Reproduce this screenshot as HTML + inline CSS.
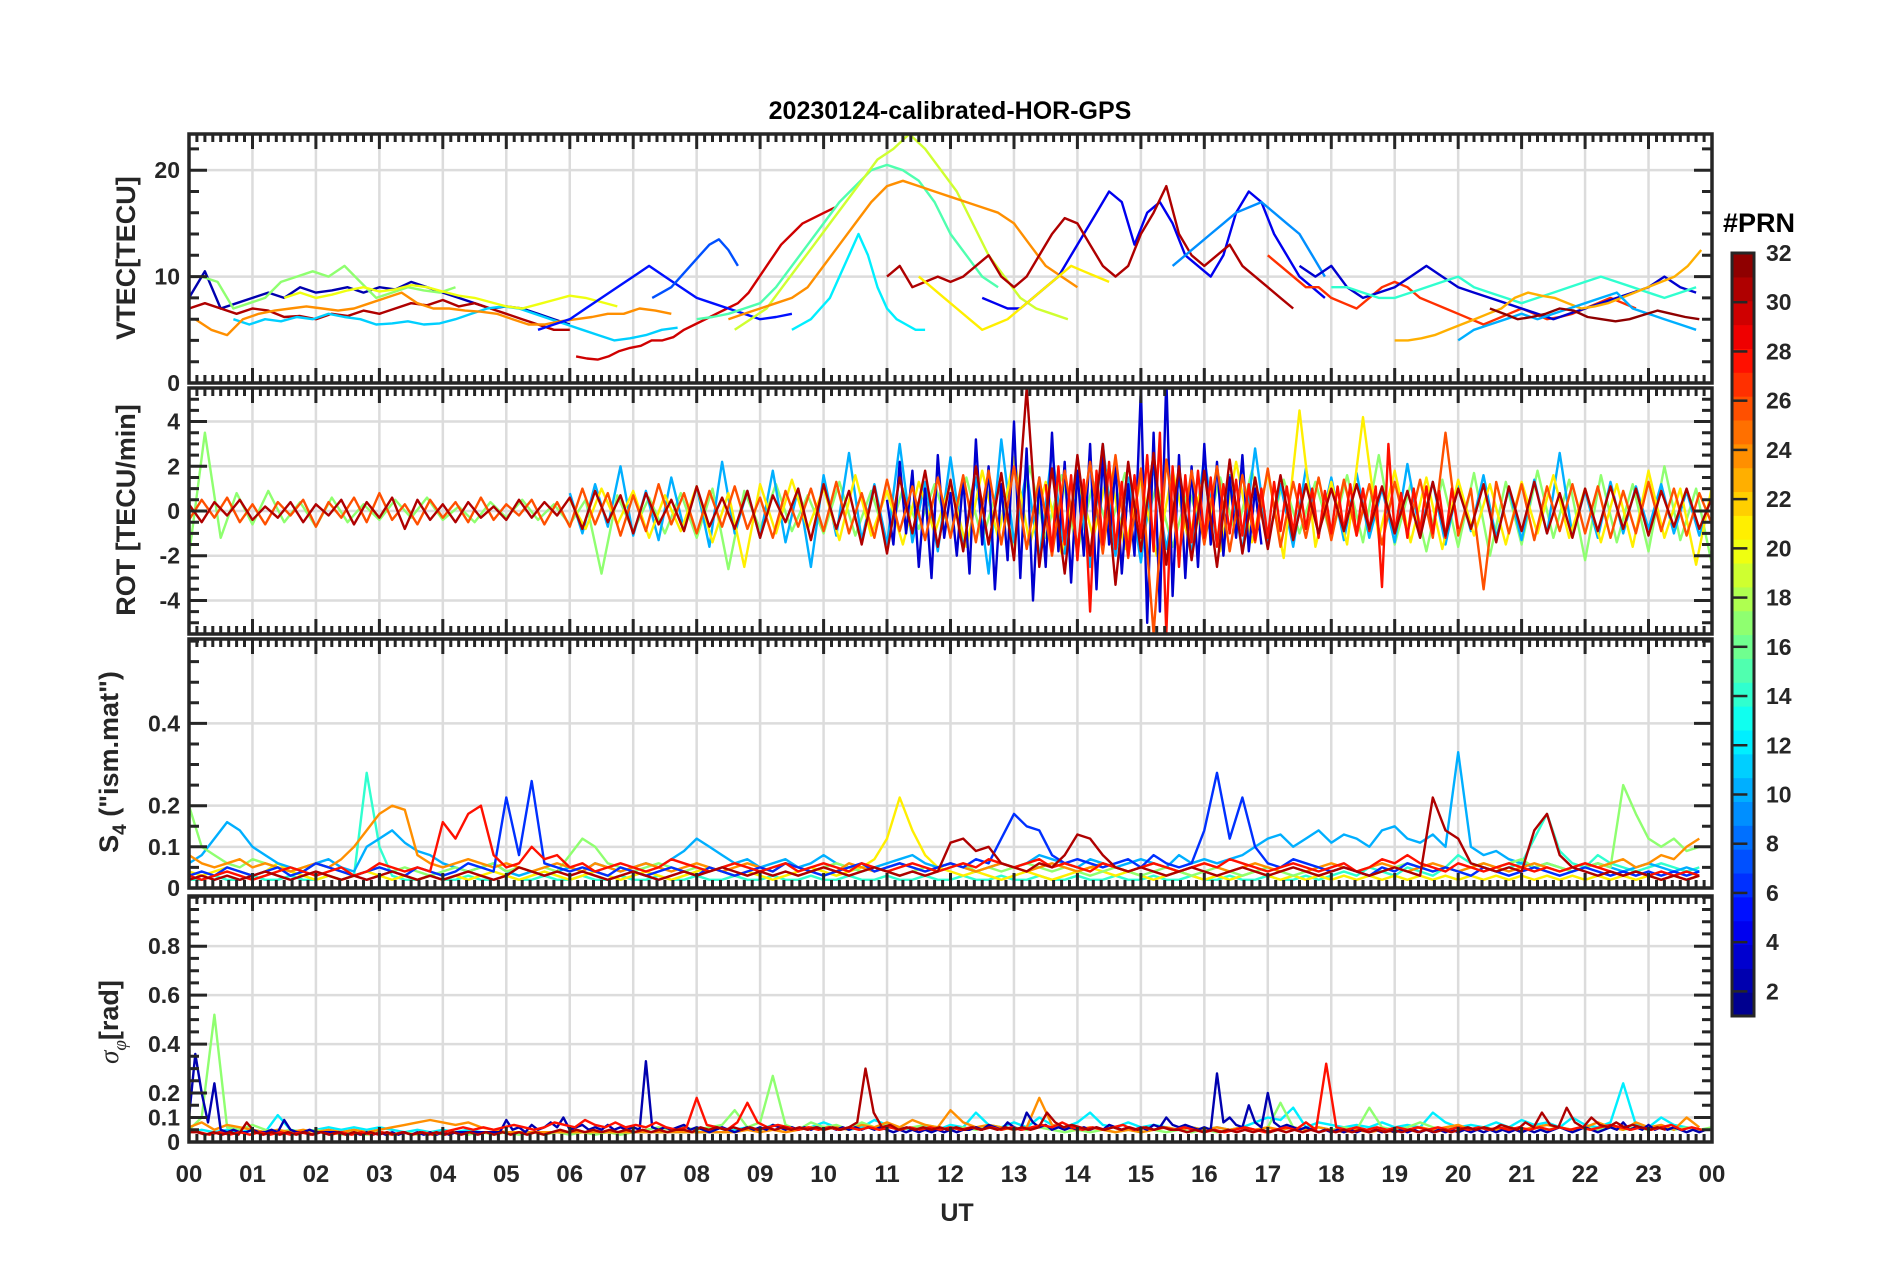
<!DOCTYPE html>
<html><head><meta charset="utf-8"><style>
html,body{margin:0;padding:0;background:#fff;}
svg{display:block;font-family:"Liberation Sans",sans-serif;font-weight:bold;}
</style></head><body>
<svg id="fig" width="1902" height="1272" viewBox="0 0 1902 1272">
<text x="950" y="119" text-anchor="middle" font-size="25" fill="#000">20230124-calibrated-HOR-GPS</text>
<g id="grids"></g>
<g id="lines"></g>
<g id="axes"></g>
<text x="957" y="1221" text-anchor="middle" font-size="25" fill="#262626">UT</text>
<text transform="translate(135,258) rotate(-90)" text-anchor="middle" font-size="27" fill="#262626">VTEC[TECU]</text>
<text transform="translate(135,510) rotate(-90)" text-anchor="middle" font-size="27" fill="#262626">ROT [TECU/min]</text>
<text transform="translate(118,762) rotate(-90)" text-anchor="middle" font-size="27" fill="#262626">S<tspan font-size="19" dy="8">4</tspan><tspan dy="-8"> ("ism.mat")</tspan></text>
<text transform="translate(118,1022) rotate(-90)" text-anchor="middle" font-size="27" fill="#262626"><tspan font-family="Liberation Serif" font-style="italic" font-weight="normal">σ</tspan><tspan font-family="Liberation Serif" font-style="italic" font-weight="normal" font-size="19" dy="8">φ</tspan><tspan dy="-8">[rad]</tspan></text>
<text x="1759" y="232" text-anchor="middle" font-size="27" fill="#000">#PRN</text>
<g id="cbar"></g>
</svg>
<script>
// ---------- data ----------
const hourLabels = ["00","01","02","03","04","05","06","07","08","09","10","11","12","13","14","15","16","17","18","19","20","21","22","23","00"];
const vtecTicks = [0,10,20];
const rotTicks = [-4,-2,0,2,4];
const s4Ticks = [0,0.1,0.2,0.4];
const sigTicks = [0,0.1,0.2,0.4,0.6,0.8];
const cbarTicks = [2,4,6,8,10,12,14,16,18,20,22,24,26,28,30,32];

const vtecP02 = [8,10.5,7,7.5,8,8.5,8,9,8.5,8.7,9,8.5,9,8.8,9.5,9,8.5,8,7.5,7,7.2,7,6.5,6,5.5];
const vtecP17 = [10,9.5,7,7.5,8,9.5,10,10.5,10,11,9.5,8,8.5,9,8.7,8.5,9];
const vtecP31a = [7,7.5,7,6.5,7,6.8,6.2,6.3,6,6.5,6.3,6.8,6.5,7,7.5,7.3,7.8,7.2,7.5,7,6.5,6,5.5,5,5];
const vtecP11 = [6,5.5,6,5.8,6.2,6,6.5,6.2,6,5.5,5.6,5.8,5.5,5.6,6,6.5,7,7.2,7,6.5,6,5.5,5,4.5,4,4.2,4.5,5,5.2];
const vtecP24a = [6,5,4.5,6,6.5,6.8,7,7.2,7,6.8,7,7.5,8,8.5,7.5,7,7,6.8,6.7,6.5,6,5.5,5.5,5.8,6,6.2,6.5,6.5,7,6.8,6.5];
const vtecP20a = [8,8.5,8,8.3,8.7,9,8.6,8.8,9.2,9,8.6,8.2,8,7.6,7.2,7,7.4,7.8,8.2,8,7.6,7.2];
const vtecP30 = [2.5,2.3,2.2,2.5,3,3.3,3.5,4,4,4.3,5,5.5,6,6.5,7,7.5,8.5,10,11.5,13,14,15,15.5,16,16.5];
const vtecP05 = [5,5.5,6,7,8,9,10,11,10,9,8,7.5,7,6.5,6,6.2,6.5];
const vtecP07 = [8,8.5,9,10,11,12,13,13.5,12.5,11];
const vtecP15 = [6,6.2,6.5,7,7.5,9,11,13,15,17,18.5,20,20.5,20,19,17,14,12,10,9];
const vtecP19 = [5,6,7,9,11,13,15,17,19,21,22,23.4,22,20,18,15,12,10,8,7,6.5,6];
const vtecP24b = [6,6.5,7,7.5,8,9,11,13,15,17,18.5,19,18.5,18,17.5,17,16.5,16,15,13,11,10,9];
const vtecP12 = [5,5.5,6,7,8,10,12,14,12,9,7,6,5.5,5,5];
const vtecP04 = [8,7.5,7,7,8,9,10,12,14,16,18,17,13,16,17,15,12,11,10,12,16,18,17,14,12,10,9,8];
const vtecP31b = [10,11,9,9.5,10,9.5,10,11,12,10,9,10,12,14,15.5,15,13,11,10,11,14,16,18.5,14,12,11,12,13,11,10,9,8,7];
const vtecP09 = [11,12,13,14,15,16,16.5,17,16,15,14,12,10];
const vtecP21 = [10,9,8,7,6,5,5.5,6,7,8,9,10,11,10.5,10,9.5];
const vtecP27 = [12,11,10,9,9,8,7.5,7,8,9,9.5,9,8,7.5,7,6.5,6,5.5,6,6.5,7,6.5,6,6.2,6.5,7,7.5,8,7.5,7];
const vtecP03 = [11,10,11,9,8,8.5,9,10,11,10,9,8.5,8,7.5,7,6.5,6,6.5,7,7.5,8,8.5,9,10,9,8.5];
const vtecP14 = [9,9,8.5,8,8,8.5,9,9.5,10,9,8.5,8,7.5,8,8.5,9,9.5,10,9.5,9,8.5,8,8.5,9];
const vtecP23 = [4,4,4.2,4.5,5,5.5,6,6.5,7,8,8.5,8.2,8,7.5,7,7.2,7.5,8,8.5,9,9.5,10,11,12.5];
const vtecP10 = [4,5,5.5,6,6.5,6,6.5,7,7.5,8,8.5,7,6.5,6,5.5,5];
const vtecP32 = [7,6.5,6,6.2,6.5,7,6.8,6.2,6,5.8,6,6.4,6.8,6.5,6.2,6];

const vtecSeries = [
 {prn:2,t0:0,dt:0.25,v:vtecP02},{prn:17,t0:0.2,dt:0.25,v:vtecP17},{prn:31,t0:0,dt:0.25,v:vtecP31a},
 {prn:11,t0:0.7,dt:0.25,v:vtecP11},{prn:24,t0:0.1,dt:0.25,v:vtecP24a},{prn:20,t0:1.5,dt:0.25,v:vtecP20a},
 {prn:30,t0:6.1,dt:0.17,v:vtecP30},{prn:5,t0:5.5,dt:0.25,v:vtecP05},{prn:7,t0:7.3,dt:0.15,v:vtecP07},
 {prn:15,t0:8,dt:0.25,v:vtecP15},{prn:19,t0:8.6,dt:0.25,v:vtecP19},{prn:24,t0:8.5,dt:0.25,v:vtecP24b},
 {prn:12,t0:9.5,dt:0.15,v:vtecP12},{prn:4,t0:12.5,dt:0.2,v:vtecP04},{prn:31,t0:11,dt:0.2,v:vtecP31b},
 {prn:9,t0:15.5,dt:0.2,v:vtecP09},{prn:21,t0:11.5,dt:0.2,v:vtecP21},{prn:27,t0:17,dt:0.2,v:vtecP27},
 {prn:3,t0:17.5,dt:0.25,v:vtecP03},{prn:14,t0:18,dt:0.25,v:vtecP14},{prn:23,t0:19,dt:0.21,v:vtecP23},
 {prn:10,t0:20,dt:0.25,v:vtecP10},{prn:32,t0:20.5,dt:0.22,v:vtecP32}
];

const rotP31 = [0.3,-0.5,0.4,-0.2,0.5,-0.4,0.2,-0.3,0.4,-0.5,0.3,-0.2,0.5,-0.6,0.4,-0.3,0.6,-0.8,0.5,-0.4,0.3,-0.5,0.4,-0.3,0.2,-0.4,0.5,-0.3,0.4,-0.2,
 0.6,-0.8,0.9,-0.5,0.7,-1.0,0.8,-0.6,0.5,-0.9,1.1,-0.7,0.6,-0.8,0.9,-1.2,0.7,-0.5,1.0,-1.3,1.2,-0.8,0.9,-1.5,1.1,-1.9,1.5,-1.0,1.8,-1.6,
 1.4,-1.8,2.0,-1.5,1.7,-2.2,5.5,-2.5,1.9,-2.8,2.5,-2.0,3.0,-3.3,2.2,-1.8,2.6,-2.4,2.0,-2.2,1.8,-2.5,2.3,-1.9,1.5,-1.7,1.6,-1.3,1.2,-1.0,
 1.0,-0.9,1.2,-0.8,1.1,-1.0,0.9,-1.2,1.3,-1.1,1.0,-0.8,1.2,-1.4,1.1,-0.9,1.3,-1.0,0.8,-1.2,1.0,-0.9,1.1,-0.8,1.0,-1.1,0.9,-0.7,1.0,-0.8,0.6];
const rotP26 = [-0.4,0.5,-0.3,0.6,-0.5,0.3,-0.6,0.4,-0.2,0.5,-0.7,0.4,-0.3,0.6,-0.5,0.8,-0.4,0.3,-0.6,0.5,-0.3,0.4,-0.5,0.6,-0.4,0.3,-0.2,0.5,-0.6,0.4,
 -0.7,1.0,-0.6,0.8,-1.1,0.7,-0.9,1.2,-0.6,0.8,-1.0,0.9,-0.7,1.1,-0.8,0.6,-1.2,0.9,-0.7,1.0,-0.9,1.3,-1.0,0.8,-1.2,1.4,-0.9,1.1,-1.3,1.5,
 -1.2,1.6,-1.4,1.8,-1.5,2.0,-1.7,1.5,-2.0,1.8,-1.6,2.2,-1.9,2.5,-2.1,1.9,-5.5,2.3,-2.0,1.8,-1.5,2.0,-1.8,1.6,-1.4,1.9,-1.6,1.3,-1.2,1.5,
 -1.3,1.4,-1.1,1.2,-1.5,1.3,-1.0,1.4,-1.2,3.5,-1.1,1.0,-3.5,1.3,-1.0,1.2,-1.3,1.1,-0.9,1.2,-1.0,1.1,-1.2,0.9,-1.0,1.3,-0.9,1.0,-1.1,0.8,-0.6];
const rotP03 = [0.5,-1.5,2.2,-1.0,1.8,-2.5,1.0,-3.0,2.5,-1.2,0.8,-2.0,1.5,-2.8,3.2,-1.5,2.0,-3.5,1.2,-2.2,4.0,-3.0,2.8,-4.0,1.5,-2.5,3.5,-1.8,2.2,-3.2,
 1.8,-2.0,3.0,-3.5,2.5,-1.5,2.0,-2.8,1.2,-2.0,5.5,-5.0,3.5,-4.5,6,-3.8,2.5,-3.0,2.0,-2.5,3.0,-1.5,2.2,-2.0,1.5,-1.2,2.5,-1.8,1.0,-1.5];
const rotP17 = [-2,3.5,-1.2,0.8,-0.6,0.9,-0.5,0.4,-0.7,0.6,-0.5,0.3,-0.4,0.5,-0.3,0.6,-0.4,0.2,-0.5,0.4,-0.3,0.5,-0.4,0.3,
 -0.6,0.5,-2.8,0.7,-0.9,0.6,-1.0,0.8,-1.2,1.0,-2.6,0.9,-0.8,1.2,-0.9,0.7,-1.0,1.3,-1.1,0.9,-1.4,1.0,-0.8,1.2,
 -1.0,1.5,-1.3,1.1,-1.5,2.0,-1.2,1.6,-1.8,1.3,-1.0,1.7,-1.4,1.2,-1.6,1.0,-1.3,1.5,-1.1,1.8,-1.2,1.4,-1.0,1.3,
 -1.2,1.6,-1.4,2.5,-1.5,1.2,-1.8,1.4,-1.6,1.7,-2.0,1.3,-1.5,1.8,-1.2,1.4,-2.2,1.6,-1.4,1.2,-1.8,2.0,-1.3,1.0,-2.4];
const rotP10 = [0.8,-1.0,1.2,-0.7,2.0,-1.1,0.9,-1.3,1.5,-0.8,1.1,-1.6,2.2,-1.0,0.9,-1.2,1.8,-1.4,1.0,-2.5,1.6,-1.1,2.6,-1.3,1.2,-1.5,3.0,-1.4,1.3,-1.8,
 2.4,-1.6,1.5,-2.8,3.2,-1.4,1.8,-2.2,2.7,-1.9,1.6,-2.5,3.0,-2.0,1.5,-2.3,2.0,-1.7,1.4,-1.9,2.4,-1.5,1.6,-1.8,2.8,-1.4,1.2,-1.6,1.9,-1.1,
 1.5,-1.3,1.7,-1.2,1.0,-1.4,2.1,-1.0,1.3,-1.5,1.2,-0.9,1.6,-1.2,1.0,-1.3,1.4,-1.0,2.6,-1.1,0.9,-1.2,1.3,-1.0,1.1,-0.8,1.2,-1.0,0.9,-1.1,0.7];
const rotP21 = [0.5,-0.8,1.0,-0.6,0.9,-1.2,0.7,-0.9,1.1,-1.4,0.8,-2.5,1.2,-1.0,1.4,-0.8,1.0,-1.3,1.6,-1.1,0.9,-1.5,1.3,-1.0,
 1.2,-1.6,1.8,-1.2,2.4,-1.5,1.3,-1.9,1.5,-1.2,2.0,-1.7,1.4,-2.0,1.8,-1.3,1.6,-1.8,2.2,-1.4,1.7,-2.1,4.5,-1.6,
 1.3,-1.5,4.2,-1.2,1.8,-1.4,1.5,-1.7,1.4,-1.1,1.2,-1.5,1.3,-1.0,1.6,-1.2,1.0,-1.4,1.2,-1.6,1.8,-1.2,1.0,-2.4,1.1];
const rotP28 = [1.2,-1.8,2.0,-1.5,1.6,-2.2,1.4,-4.5,1.8,-1.5,2.2,-1.7,1.3,-2.0,1.6,-1.2,2.5,-1.8,3.5,-5.5,2.0,-2.5,1.6,-1.4,1.8,-1.2,1.5,-1.6,1.2,-1.0,
 1.4,-1.1,1.2,-1.3,1.0,-1.2,1.3,-0.9,1.1,-1.0,1.2,-0.8,1.0,-1.2,0.9,-1.0,1.1,-0.9,1.2,-1.1,1.0,-0.9,1.1,-3.4,3.0,-1.0,0.8,-1.2,1.0,-0.9,
 1.1,-1.0,0.9,-1.2,1.0,-0.8];

const rotSeries = [
 {prn:17,t0:0,dt:0.25,v:rotP17},{prn:10,t0:6,dt:0.2,v:rotP10},{prn:21,t0:6,dt:0.25,v:rotP21},
 {prn:3,t0:11,dt:0.1,v:rotP03},{prn:26,t0:0,dt:0.2,v:rotP26},{prn:28,t0:13.5,dt:0.1,v:rotP28},
 {prn:31,t0:0,dt:0.2,v:rotP31}
];

const s4P06 = [0.03,0.04,0.03,0.05,0.04,0.03,0.04,0.05,0.03,0.04,0.06,0.05,0.04,0.03,0.04,0.05,0.04,0.03,0.05,0.04,0.03,0.04,0.06,0.05,0.04,0.22,0.08,0.26,0.06,0.05,
 0.04,0.05,0.04,0.03,0.05,0.04,0.03,0.04,0.05,0.04,0.03,0.05,0.04,0.03,0.04,0.05,0.04,0.06,0.05,0.04,0.03,0.04,0.05,0.06,0.04,0.05,0.06,0.05,0.04,0.05,
 0.06,0.05,0.07,0.06,0.12,0.18,0.15,0.14,0.08,0.06,0.07,0.06,0.05,0.06,0.07,0.05,0.08,0.06,0.05,0.06,0.14,0.28,0.12,0.22,0.10,0.06,0.05,0.07,0.06,0.05,
 0.04,0.05,0.04,0.03,0.05,0.04,0.06,0.05,0.04,0.05,0.04,0.03,0.05,0.04,0.03,0.04,0.05,0.04,0.03,0.04,0.05,0.04,0.03,0.04,0.03,0.04,0.03,0.04,0.03,0.04];
const s4P28 = [0.03,0.02,0.03,0.04,0.03,0.02,0.03,0.04,0.05,0.04,0.03,0.04,0.05,0.03,0.04,0.06,0.05,0.04,0.05,0.04,0.16,0.12,0.18,0.2,0.08,0.05,0.06,0.1,0.07,0.08,
 0.05,0.06,0.04,0.05,0.06,0.05,0.04,0.05,0.07,0.06,0.05,0.04,0.05,0.06,0.05,0.04,0.05,0.06,0.04,0.05,0.06,0.05,0.04,0.06,0.05,0.04,0.05,0.06,0.05,0.04,
 0.05,0.06,0.05,0.07,0.06,0.05,0.06,0.07,0.05,0.06,0.05,0.04,0.06,0.05,0.04,0.05,0.06,0.05,0.04,0.05,0.06,0.05,0.07,0.06,0.05,0.04,0.05,0.06,0.05,0.04,
 0.05,0.06,0.04,0.05,0.07,0.06,0.08,0.06,0.05,0.04,0.06,0.05,0.04,0.05,0.06,0.05,0.04,0.05,0.04,0.05,0.06,0.05,0.04,0.03,0.04,0.03,0.04,0.03,0.04,0.03];
const s4P31 = [0.02,0.03,0.02,0.03,0.02,0.03,0.04,0.03,0.02,0.03,0.04,0.03,0.02,0.03,0.02,0.03,0.04,0.03,0.02,0.03,0.02,0.03,0.04,0.03,0.02,0.03,0.05,0.04,0.03,0.04,
 0.03,0.04,0.03,0.02,0.03,0.04,0.03,0.02,0.03,0.04,0.03,0.04,0.05,0.04,0.03,0.04,0.03,0.04,0.03,0.04,0.05,0.04,0.03,0.04,0.05,0.04,0.03,0.04,0.03,0.04,
 0.11,0.12,0.09,0.10,0.06,0.05,0.04,0.06,0.05,0.08,0.13,0.12,0.08,0.05,0.04,0.05,0.04,0.03,0.04,0.05,0.04,0.03,0.04,0.05,0.04,0.03,0.04,0.05,0.04,0.03,
 0.04,0.05,0.04,0.03,0.04,0.05,0.04,0.03,0.22,0.14,0.12,0.06,0.05,0.04,0.05,0.04,0.14,0.18,0.08,0.05,0.04,0.03,0.04,0.03,0.04,0.03,0.02,0.03,0.02,0.03];
const s4P24 = [0.08,0.06,0.05,0.06,0.07,0.05,0.06,0.05,0.04,0.05,0.06,0.05,0.07,0.10,0.14,0.18,0.2,0.19,0.08,0.06,0.05,0.06,0.07,0.06,0.05,0.06,0.05,0.04,0.05,0.06,
 0.05,0.04,0.06,0.05,0.04,0.05,0.06,0.05,0.04,0.05,0.06,0.05,0.04,0.05,0.06,0.05,0.04,0.06,0.05,0.04,0.05,0.04,0.06,0.05,0.04,0.05,0.06,0.05,0.04,0.05,
 0.06,0.05,0.04,0.05,0.06,0.05,0.04,0.05,0.06,0.05,0.04,0.05,0.06,0.05,0.04,0.05,0.06,0.05,0.04,0.05,0.06,0.05,0.04,0.05,0.06,0.05,0.04,0.05,0.04,0.05,
 0.06,0.05,0.04,0.05,0.06,0.05,0.04,0.05,0.06,0.05,0.04,0.05,0.06,0.05,0.04,0.05,0.06,0.05,0.04,0.05,0.06,0.05,0.06,0.07,0.05,0.06,0.08,0.07,0.10,0.12];
const s4P10 = [0.06,0.08,0.12,0.16,0.14,0.10,0.08,0.06,0.05,0.04,0.06,0.07,0.05,0.04,0.10,0.12,0.14,0.11,0.09,0.08,0.06,0.05,0.04,0.05,0.06,0.04,0.03,0.04,0.03,0.04,
 0.05,0.04,0.06,0.05,0.04,0.05,0.06,0.05,0.07,0.09,0.12,0.10,0.08,0.06,0.07,0.05,0.06,0.07,0.05,0.06,0.08,0.06,0.05,0.04,0.05,0.06,0.07,0.08,0.06,0.05,
 0.06,0.05,0.04,0.05,0.06,0.05,0.06,0.08,0.07,0.06,0.05,0.07,0.06,0.05,0.06,0.07,0.06,0.05,0.08,0.06,0.07,0.06,0.07,0.08,0.10,0.12,0.13,0.1,0.12,0.14,
 0.11,0.13,0.12,0.10,0.14,0.15,0.12,0.11,0.13,0.10,0.33,0.10,0.08,0.09,0.07,0.06,0.05,0.06,0.05,0.04,0.05,0.06,0.05,0.04,0.05,0.06,0.05,0.04,0.05,0.04];
const s4P17 = [0.2,0.1,0.08,0.06,0.05,0.07,0.06,0.05,0.04,0.05,0.06,0.05,0.04,0.03,0.04,0.05,0.04,0.05,0.04,0.03,0.04,0.05,0.04,0.05,0.06,0.04,0.05,0.04,0.05,0.04,
 0.08,0.12,0.1,0.06,0.05,0.04,0.05,0.06,0.05,0.04,0.05,0.04,0.05,0.06,0.05,0.04,0.05,0.06,0.05,0.04,0.05,0.06,0.05,0.04,0.05,0.04,0.03,0.04,0.05,0.04,
 0.05,0.06,0.04,0.05,0.04,0.05,0.06,0.05,0.04,0.05,0.04,0.03,0.04,0.05,0.04,0.03,0.04,0.05,0.04,0.03,0.04,0.05,0.04,0.03,0.04,0.05,0.04,0.03,0.04,0.03,
 0.04,0.05,0.04,0.03,0.04,0.05,0.06,0.05,0.04,0.05,0.04,0.05,0.06,0.05,0.06,0.07,0.05,0.06,0.05,0.04,0.05,0.06,0.05,0.25,0.18,0.12,0.10,0.12,0.09,0.10];
const s4P21 = [0.04,0.03,0.04,0.05,0.04,0.03,0.04,0.06,0.04,0.03,0.02,0.03,0.02,0.03,0.04,0.03,0.02,0.03,0.02,0.03,0.02,0.03,0.02,0.03,0.04,0.03,0.02,0.03,0.04,0.03,
 0.02,0.03,0.04,0.03,0.02,0.03,0.04,0.03,0.02,0.03,0.04,0.05,0.04,0.03,0.04,0.03,0.02,0.03,0.04,0.05,0.04,0.03,0.04,0.05,0.07,0.12,0.22,0.14,0.08,0.05,
 0.04,0.03,0.04,0.03,0.02,0.03,0.04,0.03,0.02,0.03,0.04,0.05,0.04,0.03,0.04,0.03,0.02,0.03,0.04,0.03,0.02,0.03,0.02,0.03,0.04,0.03,0.02,0.03,0.02,0.03,
 0.02,0.03,0.02,0.03,0.02,0.03,0.02,0.03,0.02,0.03,0.02,0.03,0.02,0.03,0.02,0.03,0.02,0.03,0.02,0.03,0.02,0.03,0.02,0.03,0.02,0.03,0.02,0.03,0.02,0.03];
const s4P14 = [0.02,0.02,0.03,0.02,0.02,0.03,0.02,0.02,0.03,0.02,0.02,0.03,0.02,0.03,0.28,0.1,0.03,0.02,0.02,0.03,0.02,0.02,0.03,0.02,0.02,0.03,0.02,0.02,0.03,0.02,
 0.02,0.03,0.02,0.02,0.03,0.02,0.02,0.03,0.02,0.02,0.03,0.02,0.02,0.03,0.02,0.02,0.03,0.02,0.02,0.03,0.02,0.02,0.03,0.02,0.02,0.03,0.02,0.02,0.03,0.02,
 0.02,0.03,0.02,0.02,0.03,0.02,0.02,0.03,0.02,0.02,0.03,0.02,0.02,0.03,0.02,0.02,0.03,0.02,0.02,0.03,0.02,0.02,0.03,0.02,0.02,0.03,0.02,0.02,0.03,0.02,
 0.03,0.04,0.03,0.05,0.04,0.03,0.05,0.04,0.03,0.05,0.08,0.06,0.05,0.04,0.05,0.06,0.12,0.18,0.09,0.06,0.05,0.08,0.06,0.05,0.04,0.05,0.06,0.05,0.04,0.05];

const s4Series = [
 {prn:14,t0:0,dt:0.2,v:s4P14},{prn:21,t0:0,dt:0.2,v:s4P21},{prn:10,t0:0,dt:0.2,v:s4P10},
 {prn:17,t0:0,dt:0.2,v:s4P17},{prn:24,t0:0,dt:0.2,v:s4P24},{prn:6,t0:0,dt:0.2,v:s4P06},
 {prn:28,t0:0,dt:0.2,v:s4P28},{prn:31,t0:0,dt:0.2,v:s4P31}
];

const sigP02 = [0.1,0.36,0.2,0.08,0.24,0.05,0.04,0.05,0.04,0.04,0.05,0.04,0.04,0.05,0.04,0.09,0.05,0.04,0.04,0.05,0.04,0.04,0.04,0.04,0.04,0.03,0.04,0.03,0.04,0.03,
 0.04,0.03,0.04,0.03,0.04,0.03,0.04,0.03,0.04,0.03,0.04,0.03,0.04,0.04,0.04,0.04,0.04,0.04,0.04,0.04,0.09,0.05,0.06,0.04,0.07,0.05,0.06,0.08,0.06,0.1,
 0.05,0.06,0.07,0.05,0.06,0.05,0.07,0.05,0.06,0.05,0.06,0.05,0.33,0.06,0.05,0.06,0.05,0.06,0.07,0.05,0.06,0.05,0.04,0.05,0.06,0.05,0.04,0.05,0.06,0.05,
 0.06,0.05,0.07,0.06,0.05,0.06,0.05,0.06,0.05,0.06,0.05,0.06,0.05,0.06,0.05,0.06,0.05,0.06,0.05,0.06,0.05,0.04,0.05,0.04,0.05,0.04,0.05,0.04,0.05,0.04,
 0.05,0.04,0.05,0.05,0.06,0.05,0.07,0.06,0.05,0.08,0.06,0.05,0.12,0.08,0.06,0.07,0.05,0.06,0.05,0.06,0.05,0.06,0.05,0.06,0.05,0.07,0.06,0.05,0.06,0.05,
 0.06,0.05,0.07,0.06,0.10,0.07,0.06,0.07,0.06,0.05,0.06,0.05,0.28,0.08,0.1,0.07,0.06,0.15,0.08,0.06,0.2,0.08,0.06,0.07,0.06,0.05,0.06,0.05,0.04,0.05,
 0.04,0.05,0.04,0.05,0.04,0.05,0.04,0.05,0.04,0.05,0.04,0.05,0.04,0.05,0.04,0.05,0.04,0.05,0.04,0.05,0.04,0.05,0.04,0.05,0.04,0.05,0.04,0.05,0.04,0.05,
 0.04,0.05,0.04,0.05,0.04,0.05,0.06,0.05,0.04,0.05,0.06,0.05,0.04,0.05,0.06,0.05,0.08,0.05,0.06,0.05,0.07,0.05,0.06,0.05,0.06,0.05,0.04,0.05,0.04,0.05];
const sigP17 = [0.05,0.1,0.52,0.06,0.05,0.07,0.05,0.04,0.05,0.04,0.05,0.04,0.03,0.04,0.03,0.04,0.03,0.04,0.03,0.04,0.03,0.04,0.03,0.04,0.03,0.04,0.03,0.04,0.03,0.04,
 0.03,0.04,0.03,0.04,0.03,0.04,0.05,0.06,0.05,0.06,0.05,0.06,0.07,0.13,0.06,0.08,0.27,0.07,0.05,0.08,0.06,0.07,0.05,0.08,0.06,0.07,0.05,0.06,0.07,0.06,
 0.05,0.06,0.05,0.06,0.05,0.06,0.05,0.06,0.05,0.04,0.05,0.04,0.05,0.04,0.05,0.04,0.05,0.04,0.05,0.04,0.05,0.04,0.05,0.06,0.05,0.06,0.16,0.06,0.05,0.06,
 0.05,0.06,0.05,0.14,0.06,0.05,0.06,0.08,0.06,0.05,0.06,0.05,0.06,0.05,0.06,0.05,0.06,0.05,0.06,0.05,0.06,0.05,0.06,0.05,0.06,0.05,0.06,0.05,0.06,0.05,
 0.06,0.05,0.06,0.05,0.06,0.05,0.06,0.05,0.06,0.05,0.06,0.05,0.06,0.05,0.06,0.05,0.08,0.05,0.06,0.05,0.06,0.05,0.06,0.05,0.06,0.05,0.04,0.05,0.04,0.05];
const sigP12 = [0.04,0.05,0.04,0.05,0.04,0.05,0.04,0.11,0.05,0.04,0.05,0.06,0.05,0.06,0.05,0.06,0.05,0.04,0.05,0.04,0.05,0.04,0.05,0.04,0.04,0.04,0.04,0.04,0.04,0.04,
 0.04,0.04,0.04,0.04,0.04,0.04,0.04,0.04,0.04,0.04,0.04,0.04,0.04,0.05,0.06,0.05,0.07,0.06,0.05,0.06,0.08,0.06,0.05,0.06,0.09,0.07,0.06,0.05,0.06,0.05,
 0.07,0.06,0.12,0.07,0.06,0.08,0.06,0.1,0.07,0.06,0.08,0.12,0.07,0.06,0.08,0.06,0.07,0.06,0.05,0.06,0.05,0.06,0.05,0.06,0.08,0.1,0.09,0.14,0.06,0.08,
 0.07,0.06,0.07,0.06,0.08,0.06,0.07,0.06,0.12,0.08,0.06,0.07,0.06,0.08,0.06,0.09,0.07,0.08,0.06,0.1,0.07,0.06,0.08,0.24,0.07,0.06,0.1,0.07,0.06,0.05];
const sigP24 = [0.06,0.08,0.05,0.07,0.06,0.05,0.04,0.05,0.04,0.05,0.04,0.05,0.04,0.05,0.04,0.05,0.06,0.07,0.08,0.09,0.08,0.07,0.08,0.06,0.05,0.04,0.04,0.04,0.04,0.04,
 0.04,0.04,0.04,0.04,0.04,0.04,0.04,0.04,0.04,0.04,0.04,0.04,0.04,0.04,0.05,0.04,0.05,0.04,0.05,0.06,0.05,0.06,0.05,0.07,0.06,0.08,0.06,0.09,0.07,0.06,
 0.13,0.08,0.06,0.07,0.06,0.05,0.06,0.18,0.07,0.06,0.05,0.06,0.05,0.04,0.05,0.04,0.05,0.06,0.05,0.06,0.05,0.06,0.05,0.06,0.05,0.06,0.05,0.06,0.05,0.06,
 0.05,0.04,0.05,0.04,0.05,0.04,0.05,0.06,0.05,0.06,0.07,0.05,0.06,0.05,0.06,0.05,0.06,0.07,0.06,0.05,0.06,0.08,0.06,0.05,0.08,0.06,0.07,0.05,0.1,0.06];
const sigP28 = [0.05,0.04,0.03,0.04,0.03,0.04,0.03,0.04,0.03,0.04,0.03,0.04,0.03,0.04,0.03,0.04,0.03,0.04,0.03,0.04,0.03,0.04,0.03,0.04,0.03,0.04,0.05,0.06,0.05,0.06,
 0.05,0.06,0.07,0.06,0.05,0.06,0.08,0.07,0.06,0.09,0.07,0.06,0.08,0.06,0.07,0.06,0.08,0.06,0.05,0.06,0.18,0.07,0.06,0.05,0.08,0.16,0.08,0.06,0.07,0.06,
 0.05,0.06,0.05,0.06,0.05,0.06,0.05,0.06,0.05,0.06,0.05,0.06,0.05,0.06,0.05,0.06,0.05,0.06,0.05,0.06,0.05,0.06,0.05,0.06,0.07,0.06,0.08,0.06,0.05,0.06,
 0.05,0.06,0.07,0.05,0.06,0.05,0.06,0.05,0.06,0.05,0.04,0.05,0.04,0.05,0.06,0.05,0.04,0.05,0.06,0.05,0.08,0.05,0.32,0.06,0.05,0.06,0.05,0.06,0.05,0.06,
 0.05,0.06,0.05,0.06,0.05,0.06,0.05,0.06,0.05,0.06,0.05,0.06,0.05,0.06,0.05,0.06,0.05,0.06,0.05,0.06,0.07,0.06,0.05,0.06,0.05,0.06,0.07,0.05,0.06,0.05];
const sigP31 = [0.04,0.04,0.03,0.04,0.03,0.04,0.03,0.08,0.04,0.03,0.04,0.03,0.04,0.03,0.04,0.03,0.04,0.03,0.04,0.03,0.04,0.03,0.04,0.03,0.04,0.03,0.04,0.03,0.04,0.03,
 0.04,0.03,0.04,0.03,0.04,0.03,0.04,0.03,0.04,0.03,0.04,0.03,0.04,0.03,0.04,0.05,0.04,0.05,0.04,0.05,0.04,0.05,0.04,0.05,0.04,0.05,0.04,0.05,0.04,0.05,
 0.05,0.04,0.06,0.05,0.06,0.05,0.06,0.05,0.06,0.05,0.06,0.05,0.06,0.05,0.06,0.05,0.06,0.05,0.06,0.05,0.06,0.08,0.3,0.12,0.06,0.07,0.05,0.06,0.05,0.06,
 0.05,0.06,0.05,0.06,0.05,0.06,0.05,0.06,0.05,0.06,0.05,0.06,0.05,0.06,0.12,0.08,0.06,0.07,0.06,0.05,0.06,0.05,0.06,0.05,0.06,0.05,0.06,0.05,0.06,0.05,
 0.05,0.04,0.05,0.04,0.05,0.04,0.05,0.04,0.05,0.04,0.05,0.04,0.05,0.04,0.05,0.04,0.05,0.04,0.05,0.04,0.05,0.04,0.05,0.04,0.05,0.04,0.05,0.04,0.05,0.04,
 0.05,0.04,0.05,0.04,0.05,0.06,0.05,0.06,0.05,0.07,0.06,0.05,0.08,0.06,0.12,0.07,0.06,0.14,0.08,0.06,0.1,0.07,0.06,0.08,0.06,0.07,0.06,0.05,0.06,0.05];

const sigSeries = [
 {prn:12,t0:0,dt:0.2,v:sigP12},{prn:17,t0:0,dt:0.2,v:sigP17},{prn:24,t0:0,dt:0.2,v:sigP24},
 {prn:2,t0:0,dt:0.1,v:sigP02},{prn:28,t0:0,dt:0.16,v:sigP28},{prn:31,t0:0,dt:0.13,v:sigP31}
];

// ---------- layout ----------
const X0 = 189, X1 = 1712;
const panels = [
 {name:'vtec', top:134, bot:383, ymin:0, ymax:23.4, ticks:vtecTicks, minor:2, series:vtecSeries, fmt:v=>String(v)},
 {name:'rot', top:388, bot:634, ymin:-5.5, ymax:5.5, ticks:rotTicks, minor:0.5, series:rotSeries, fmt:v=>String(v)},
 {name:'s4', top:639, bot:888, ymin:0, ymax:0.605, ticks:s4Ticks, minor:0.05, series:s4Series, fmt:v=>v===0?'0':String(v)},
 {name:'sigma-phi', top:896, bot:1142, ymin:0, ymax:1.005, ticks:sigTicks, minor:0.05, series:sigSeries, fmt:v=>v===0?'0':String(v)}
];
const NS = 'http://www.w3.org/2000/svg';
function mk(tag, attrs, parent){ const e=document.createElementNS(NS,tag); for(const k in attrs) e.setAttribute(k,attrs[k]); parent.appendChild(e); return e; }
function xs(t){ return X0 + t/24*(X1-X0); }
function jet(prn){
  const x = (prn-0.5)/32;
  const c = v=>Math.round(255*Math.max(0,Math.min(1,v)));
  return `rgb(${c(1.5-Math.abs(4*x-3))},${c(1.5-Math.abs(4*x-2))},${c(1.5-Math.abs(4*x-1))})`;
}
const gG = document.getElementById('grids'), gL = document.getElementById('lines'), gA = document.getElementById('axes');
const axisCol = '#262626';

panels.forEach(p=>{
  const ys = v => p.bot - (v-p.ymin)/(p.ymax-p.ymin)*(p.bot-p.top);
  // grid
  for(let h=1; h<24; h++){
    const g = mk('line',{x1:xs(h),x2:xs(h),y1:p.top,y2:p.bot,stroke:'#dcdcdc','stroke-width':2.5},gG);
    
    
  }
  p.ticks.forEach(v=>{
    if (v===p.ymin) return;
    const g = mk('line',{x1:X0,x2:X1,y1:ys(v),y2:ys(v),stroke:'#dcdcdc','stroke-width':2.5},gG);
    
    
  });
  // clip
  const cid = 'clip-'+p.name;
  const cp = mk('clipPath',{id:cid},gL);
  mk('rect',{x:X0,y:p.top,width:X1-X0,height:p.bot-p.top},cp);
  const grp = mk('g',{'clip-path':`url(#${cid})`},gL);
  
  
  p.series.forEach(s=>{
    const pts = s.v.map((v,i)=>xs(s.t0+i*s.dt).toFixed(1)+','+ys(v).toFixed(1)).join(' ');
    const pl = mk('polyline',{points:pts,fill:'none',stroke:jet(s.prn),'stroke-width':2.4,'stroke-linejoin':'round'},grp);
    
    
  });
  // frame
  const fr = mk('rect',{x:X0,y:p.top,width:X1-X0,height:p.bot-p.top,fill:'none',stroke:axisCol,'stroke-width':3.5},gA);
  
  
  // x ticks
  let d='';
  for(let k=0;k<=24*8;k++){
    const x = xs(k/8); const L = (k%8===0)?15:8;
    d += `M${x.toFixed(1)},${p.top}v${L}M${x.toFixed(1)},${p.bot}v${-L}`;
  }
  // y ticks
  const nMin = Math.round((p.ymax-p.ymin)/p.minor);
  for(let k=0;k<=nMin;k++){
    const v = p.ymin + k*p.minor; if (v>p.ymax) break;
    const major = p.ticks.some(t=>Math.abs(t-v)<1e-6);
    const L = major?18:10; const y = ys(v).toFixed(1);
    d += `M${X0},${y}h${L}M${X1},${y}h${-L}`;
  }
  const tk = mk('path',{d:d,stroke:axisCol,'stroke-width':3,fill:'none'},gA);
  
  
  p.ticks.forEach(v=>{
    const t = mk('text',{x:180,y:ys(v)+8,'text-anchor':'end','font-size':23,fill:axisCol},gA);
    t.textContent = p.fmt(v);
    
    
  });
});
hourLabels.forEach((lab,i)=>{
  const t = mk('text',{x:xs(i),y:1182,'text-anchor':'middle','font-size':24,fill:axisCol},gA);
  t.textContent = lab;
  
  
});
// colorbar
const cb = document.getElementById('cbar');
const CB = {x:1732, w:22, top:253, bot:1016, vmin:1, vmax:32};
const cy = v => CB.bot - (v-CB.vmin)/(CB.vmax-CB.vmin)*(CB.bot-CB.top);
const segH = (CB.bot-CB.top)/32;
for(let i=1;i<=32;i++){
  const r = mk('rect',{x:CB.x,y:CB.bot-i*segH,width:CB.w,height:segH+0.6,fill:jet(i)},cb);
  
  
}
const cbf = mk('rect',{x:CB.x,y:CB.top,width:CB.w,height:CB.bot-CB.top,fill:'none',stroke:axisCol,'stroke-width':3},cb);


cbarTicks.forEach(v=>{
  const l = mk('line',{x1:CB.x,x2:CB.x+CB.w*0.7,y1:cy(v),y2:cy(v),stroke:axisCol,'stroke-width':2.5},cb);
  
  
  const t = mk('text',{x:1766,y:cy(v)+8,'font-size':23,fill:axisCol},cb);
  t.textContent = String(v);
  
  
});
</script>
</body></html>
